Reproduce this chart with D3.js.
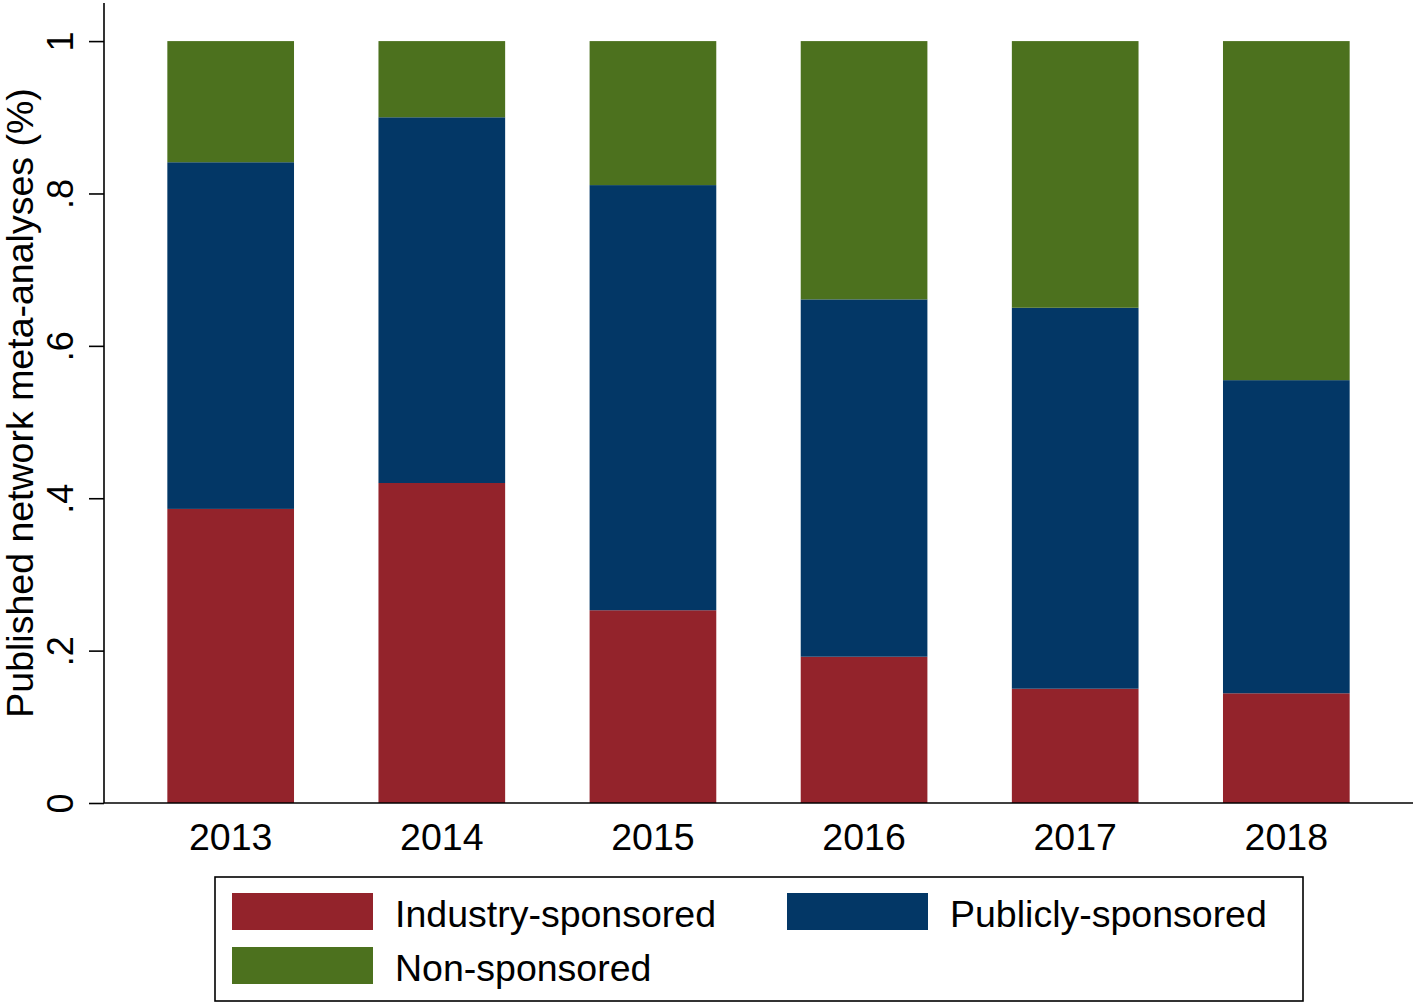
<!DOCTYPE html>
<html><head><meta charset="utf-8">
<script src="https://cdn.jsdelivr.net/npm/d3@7"></script>
<style>body{margin:0;background:#fff}svg{display:block}text{font-family:"Liberation Sans",Arial,sans-serif;fill:#000}</style>
</head><body>
<script>
const years = ["2013","2014","2015","2016","2017","2018"];
const industry = [0.386, 0.420, 0.253, 0.192, 0.150, 0.144];
const publicly = [0.455, 0.480, 0.558, 0.469, 0.500, 0.411];
const nonSponsored = [0.159, 0.100, 0.189, 0.339, 0.350, 0.445];
const seriesNames = ["Industry-sponsored","Publicly-sponsored","Non-sponsored"];
const seriesColors = ["#93232b","#033766","#4c711e"];
const yTicks = [0, 0.2, 0.4, 0.6, 0.8, 1];
const yTickLabels = ["0", ".2", ".4", ".6", ".8", "1"];

const W = 1416, H = 1005;
const svg = d3.select("body").append("svg").attr("width", W).attr("height", H);

const x = d3.scaleBand().domain(years).range([104, 1413]).paddingInner(0.4).paddingOuter(0.3);
const y = d3.scaleLinear().domain([0, 1.05]).range([803, 3]);

const rows = years.map((yr, i) => ({year: yr, s0: industry[i], s1: publicly[i], s2: nonSponsored[i]}));
const stack = d3.stack().keys(["s0","s1","s2"])(rows);

svg.append("g").selectAll("g").data(stack).join("g")
  .attr("fill", (d, i) => seriesColors[i])
  .selectAll("rect").data(d => d).join("rect")
  .attr("x", d => x(d.data.year))
  .attr("width", x.bandwidth())
  .attr("y", d => y(d[1]))
  .attr("height", d => y(d[0]) - y(d[1]));

// Y axis
const yAxis = svg.append("g").attr("transform", "translate(104,0)")
  .call(d3.axisLeft(y).tickValues(yTicks).tickFormat((d, i) => yTickLabels[i]).tickSize(15).tickPadding(0));
yAxis.select(".domain").attr("d", "M0,3V803").attr("stroke", "#000").attr("stroke-width", 1.6);
yAxis.selectAll(".tick line").attr("stroke", "#000").attr("stroke-width", 1.6);
yAxis.selectAll(".tick text").remove();
yAxis.selectAll(".tick").append("text")
  .attr("transform", "translate(-44,0) rotate(-90)")
  .attr("text-anchor", "middle").attr("dy", "0.35em")
  .style("font-size", "36px")
  .text((d, i) => yTickLabels[i]);

// X axis
const xAxis = svg.append("g").attr("transform", "translate(0,803)")
  .call(d3.axisBottom(x).tickSize(0).tickPadding(8));
xAxis.select(".domain").attr("d", "M104,0H1413").attr("stroke", "#000").attr("stroke-width", 1.6);
xAxis.selectAll(".tick text").style("font-size", "37.5px").attr("dy", "0.71em").attr("y", 20);

// Y title
svg.append("text").attr("transform", "translate(20,403) rotate(-90)")
  .attr("text-anchor", "middle").attr("dy", "0.35em")
  .style("font-size", "37.5px")
  .text("Published network meta-analyses (%)");

// Legend
const lg = svg.append("g");
lg.append("rect").attr("x", 215).attr("y", 877).attr("width", 1088).attr("height", 124)
  .attr("fill", "#fff").attr("stroke", "#000").attr("stroke-width", 1.6);
const legendPos = [[232, 893], [787, 893], [232, 947]];
seriesNames.forEach((name, i) => {
  const [lx, ly] = legendPos[i];
  lg.append("rect").attr("x", lx).attr("y", ly).attr("width", 141).attr("height", 37).attr("fill", seriesColors[i]);
  lg.append("text").attr("x", lx + 163).attr("y", ly + 21).attr("dy", "0.35em")
    .style("font-size", "37.5px").text(name);
});
</script>
</body></html>
